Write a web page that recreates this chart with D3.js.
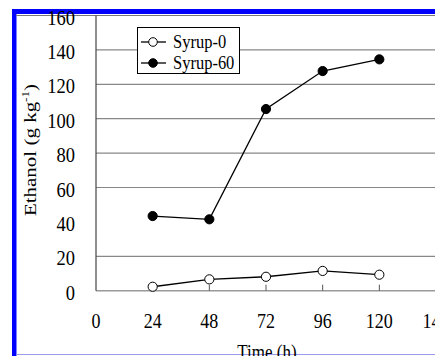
<!DOCTYPE html>
<meta charset="utf-8" />
<script src="https://d3js.org/d3.v7.min.js"></script>
<style>
  body { margin: 0; background: #fff; }
  svg text { font-family: "Liberation Serif", "DejaVu Serif", Times, serif; }
</style>
<body>
<div id="chart"></div>
</body>
<script>
  // data
  const hours = [24, 48, 72, 96, 120];
  const syrup0 = [2.3, 6.6, 8.1, 11.5, 9.3];
  const syrup60 = [43.4, 41.5, 105.6, 127.7, 134.5];
  const xTicks = [0, 24, 48, 72, 96, 120, 144];
  const yTicks = [0, 20, 40, 60, 80, 100, 120, 140, 160];
  const gridValues = [20, 60, 80, 100, 120, 140];

  const W = 435, H = 356;
  const stretch = 1.18; // the original picture is a bit taller than wide
  const svg = d3.select("#chart").append("svg")
    .attr("width", W).attr("height", H);

  const x = d3.scaleLinear().domain([0, 144]).range([96, 436]);
  const y = d3.scaleLinear().domain([0, 160]).range([290.7, 15.5]);

  // text placed at (tx, ty), squeezed vertically like the source
  function label(parent, tx, ty, str, size, anchor) {
    return parent.append("g")
      .attr("transform", "translate(" + tx + "," + ty + ") scale(1," + stretch + ")")
      .append("text")
      .attr("text-anchor", anchor || "start")
      .attr("font-size", size)
      .text(str);
  }

  // frame bits (blue border of the clipping)
  svg.append("rect").attr("x", 12).attr("y", 9).attr("width", W).attr("height", 5).attr("fill", "#0000ff");
  svg.append("rect").attr("x", 12).attr("y", 9).attr("width", 4.5).attr("height", H).attr("fill", "#0000ff");
  svg.append("line").attr("x1", 16).attr("x2", W).attr("y1", 15.5).attr("y2", 15.5)
    .attr("stroke", "#777").attr("stroke-width", 1);
  svg.append("line").attr("x1", 16).attr("x2", W).attr("y1", 354.5).attr("y2", 354.5)
    .attr("stroke", "#9999ee").attr("stroke-width", 1);

  // grid
  svg.append("g").selectAll("line").data(gridValues).enter().append("line")
    .attr("x1", x(0)).attr("x2", W)
    .attr("y1", d => y(d)).attr("y2", d => y(d))
    .attr("stroke", "#888").attr("stroke-width", 1.2);

  // axes
  svg.append("line").attr("x1", x(0)).attr("x2", W).attr("y1", y(0)).attr("y2", y(0))
    .attr("stroke", "#999").attr("stroke-width", 1.5);
  svg.append("line").attr("x1", x(0)).attr("x2", x(0)).attr("y1", y(160)).attr("y2", y(0))
    .attr("stroke", "#444").attr("stroke-width", 1.2);

  // inner tick marks on x axis
  svg.append("g").selectAll("line").data(hours).enter().append("line")
    .attr("x1", d => x(d)).attr("x2", d => x(d))
    .attr("y1", y(0) - 6).attr("y2", y(0))
    .attr("stroke", "#555").attr("stroke-width", 1);

  // tick labels
  const yLab = svg.append("g");
  yTicks.forEach(d => label(yLab, 75, y(d) + 9, d, 18.5, "end"));
  const xLab = svg.append("g");
  xTicks.forEach(d => label(xLab, x(d), 328, d, 18, "middle"));

  // axis titles
  label(svg, 267, 359, "Time (h)", 17, "middle");
  const yt = svg.append("text")
    .attr("transform", "translate(36,150) rotate(-90) scale(1.2,1)")
    .attr("text-anchor", "middle").attr("font-size", 17.5);
  yt.append("tspan").text("Ethanol (g kg");
  yt.append("tspan").attr("font-size", 11).attr("dy", -7).text("-1");
  yt.append("tspan").attr("dy", 7).text(")");

  // series
  const series = [
    {name: "Syrup-0", values: syrup0, fill: "#fff"},
    {name: "Syrup-60", values: syrup60, fill: "#000"}
  ];
  const line = d3.line().x(d => x(d[0])).y(d => y(d[1]));
  series.forEach(s => {
    const pts = hours.map((h, i) => [h, s.values[i]]);
    svg.append("path").attr("d", line(pts))
      .attr("fill", "none").attr("stroke", "#000").attr("stroke-width", 1.3);
    svg.append("g").selectAll("circle").data(pts).enter().append("circle")
      .attr("cx", d => x(d[0])).attr("cy", d => y(d[1])).attr("r", 4.6)
      .attr("fill", s.fill).attr("stroke", "#000").attr("stroke-width", 1);
  });

  // legend
  const lg = svg.append("g");
  lg.append("rect").attr("x", 137.5).attr("y", 27.5).attr("width", 102).attr("height", 46)
    .attr("fill", "#fff").attr("stroke", "#000").attr("stroke-width", 1);
  series.forEach((s, i) => {
    const yy = 42 + i * 21;
    lg.append("line").attr("x1", 141).attr("x2", 166).attr("y1", yy).attr("y2", yy)
      .attr("stroke", "#000").attr("stroke-width", 1.3);
    lg.append("circle").attr("cx", 153).attr("cy", yy).attr("r", 4.3)
      .attr("fill", s.fill).attr("stroke", "#000");
    label(lg, 173, yy + 6, s.name, 16.5);
  });
</script>
